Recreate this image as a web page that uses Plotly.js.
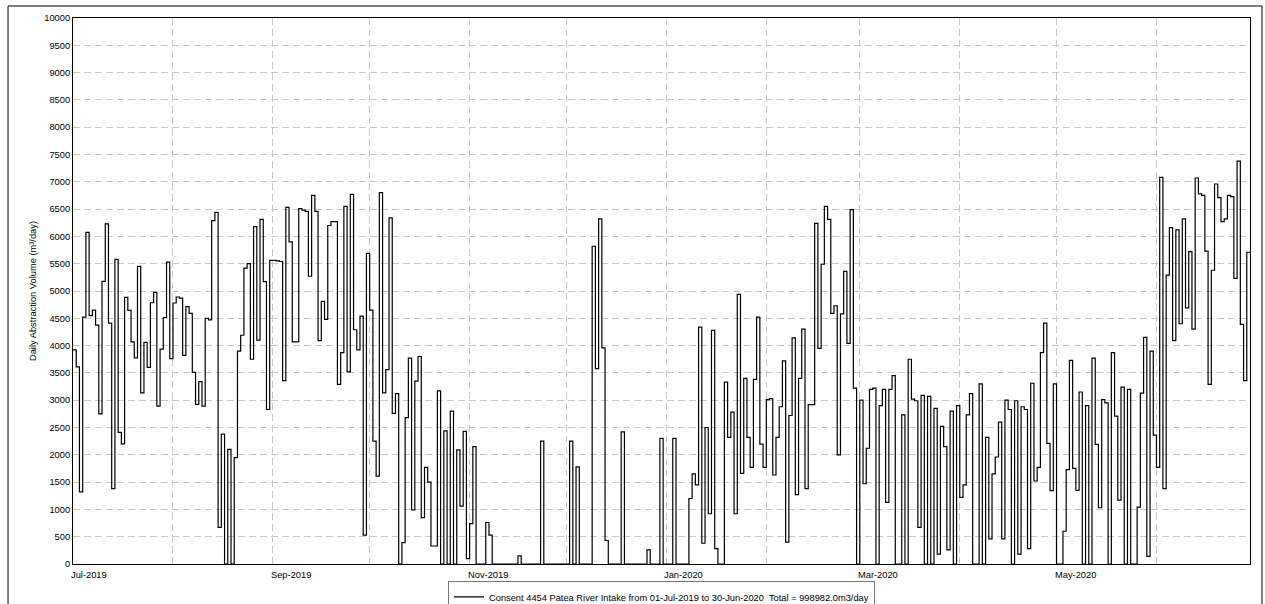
<!DOCTYPE html>
<html>
<head>
<meta charset="utf-8">
<script src="https://cdn.plot.ly/plotly-3.0.1.min.js"></script>
<style>html,body{margin:0;padding:0;background:#fff;}#chart{width:1265px;height:604px;}</style>
</head>
<body>
<div id="chart"></div>
<script>
// ---- Data: daily abstraction volume (m3/day), 01-Jul-2019 .. 30-Jun-2020 ----
const startDate = '2019-07-01';
const jul2019 = [3920,3610,1320,4520,6075,4550,4650,4375,2750,5175,6230,4410,1380,5580,2410,2200,4885,4645,4070,3775,5450,3135,4060,3600,4785,4975,2890,3935,4515,5530,3760];
const aug2019 = [4780,4890,4870,3820,4715,4590,3510,2925,3340,2890,4500,4470,6290,6440,670,2380,0,2100,0,1950,3900,4190,5420,5500,3750,6180,4100,6310,5170,2830,5560];
const sep2019 = [5560,5550,5540,3360,6530,5900,4070,4070,6510,6480,6460,5270,6750,6460,4090,4810,4480,6200,6270,6270,3290,3870,6550,3520,6770,4290,3920,4540,530,5690];
const oct2019 = [4650,2250,1610,6800,3135,3560,6340,2760,3120,0,390,2680,3770,990,3350,3800,850,1770,1500,330,330,3170,0,2440,0,2800,0,2090,1060,2430,100];
const nov2019 = [740,2150,0,0,0,760,530,0,0,0,0,0,0,0,0,150,0,0,0,0,0,0,2250,0,0,0,0,0,0,0];
const dec2019 = [0,2250,0,1780,0,0,0,0,5820,3580,6320,3960,430,0,0,0,0,2420,0,0,0,0,0,0,0,260,0,0,0,2300,0];
const jan2020 = [0,0,2300,0,0,0,0,1200,1650,1450,4340,380,2500,920,4280,280,0,0,3330,2320,2780,920,4940,1660,3400,2320,1770,3380,4520,2195,1770];
const feb2020 = [3010,3030,1630,2320,2880,3720,400,2720,4140,1270,3400,4300,1380,2920,2920,6240,3950,5490,6550,6310,4590,4730,2000,4580,5360,4040,6490,3220,0];
const mar2020 = [3000,1470,2120,3200,3220,0,2900,3200,1130,3200,3450,0,0,2730,0,3750,3020,2990,670,3090,0,3070,0,2850,180,2520,2150,260,2800,0,2900];
const apr2020 = [1220,1450,2730,3120,0,0,3300,0,2320,460,1650,1960,2600,460,3000,2830,0,2990,180,2880,2830,280,3310,1520,1770,3870,4410,2210,1345,3300];
const may2020 = [0,0,600,1730,3730,1750,1350,3150,0,2900,0,3770,2190,1030,3010,2950,0,3870,2710,1170,3240,0,3200,0,0,1040,3130,4150,140,3900,2360];
const jun2020 = [1770,7080,1380,5290,6160,4090,6120,4400,6320,4690,5720,4300,7070,6780,6750,5730,3290,5380,6960,6710,6270,6320,6750,6730,5230,7380,4390,3360,5710,5710];

const xTickDates  = ['2019-07-01','2019-09-01','2019-11-01','2020-01-01','2020-03-01','2020-05-01'];
const xTickLabels = ['Jul-2019','Sep-2019','Nov-2019','Jan-2020','Mar-2020','May-2020'];
const seriesName = 'Consent 4454 Patea River Intake from 01-Jul-2019 to 30-Jun-2020  Total = 998982.0m3/day';
const yTitle = 'Daily Abstraction Volume (m\u00b3/day)';

// ---- Build x (one point per day) ----
const values = [].concat(jul2019,aug2019,sep2019,oct2019,nov2019,dec2019,jan2020,feb2020,mar2020,apr2020,may2020,jun2020);
const t0 = Date.UTC(2019,6,1);
const dates = values.map((v,i)=>{const d=new Date(t0+i*86400000);return d.toISOString().slice(0,10);});

const FONT = 'Liberation Sans, Arial, sans-serif';
const trace = {
  x: dates, y: values, type:'scatter', mode:'lines', name: seriesName,
  line:{shape:'hv', color:'#000', width:1.2}, hoverinfo:'x+y'
};

const annotations = xTickDates.map((d,i)=>({
  x:d, xref:'x', y:-0.008, yref:'paper', yanchor:'top', xanchor:'left', xshift:-4,
  text:xTickLabels[i], showarrow:false, font:{family:FONT,size:9.3,color:'#000'}
}));

const layout = {
  width:1265, height:604,
  margin:{l:73,r:15,t:18,b:40,autoexpand:false},
  paper_bgcolor:'#fff', plot_bgcolor:'#fff',
  font:{family:FONT,size:9.3,color:'#000'},
  showlegend:true,
  legend:{x:0.5,xanchor:'center',y:-0.032,yanchor:'top',orientation:'h',
          bordercolor:'#777',borderwidth:1,bgcolor:'#fff',font:{family:FONT,size:9.3,color:'#000'}},
  xaxis:{type:'date', range:['2019-07-01','2020-06-30'], tick0:'2019-07-01', dtick:'M1',
         showticklabels:false, ticks:'', showgrid:true, gridcolor:'#c8c8c8', griddash:'7px,4px', gridwidth:1,
         showline:true, linecolor:'#000', linewidth:1, mirror:true, zeroline:false, fixedrange:true},
  yaxis:{range:[0,10000], dtick:500, tick0:0, ticks:'', tickformat:'d', showgrid:true, gridcolor:'#c8c8c8', griddash:'7px,4px', gridwidth:1,
         showline:true, linecolor:'#000', linewidth:1, mirror:true, zeroline:false,
         tickfont:{family:FONT,size:9.3,color:'#000'},
         title:{text:yTitle, font:{family:FONT,size:9.3,color:'#000'}, standoff:6}},
  annotations:annotations,
  shapes:[{type:'rect', xref:'paper', yref:'paper', x0:-0.0552, x1:1.0102, y0:-0.1, y1:1.022,
           line:{color:'#000',width:1}, fillcolor:'rgba(0,0,0,0)', layer:'below'}]
};

Plotly.newPlot('chart',[trace],layout,{displayModeBar:false,staticPlot:true});
</script>
</body>
</html>
